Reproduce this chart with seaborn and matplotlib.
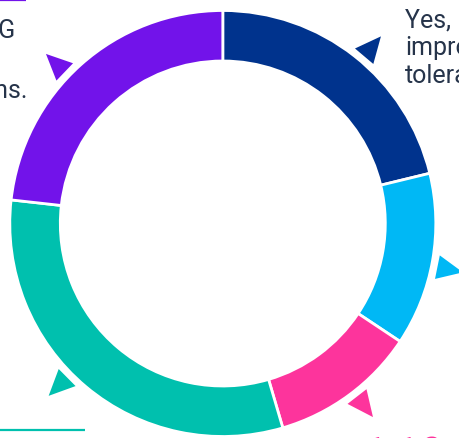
import matplotlib
matplotlib.use("Agg")
import matplotlib.pyplot as plt
import numpy as np
import seaborn as sns

# ---- data ----
categories = ["Yes, improved tolerance", "Category B", "Category C", "Category D", "Category E"]
values = [21, 13, 11, 31, 23]
colors = ["#00338D", "#00B8F5", "#FD349C", "#00C0AE", "#7213EA"]
pointer_angles = [40.2, 101.5, 142.2, 225.3, 313.8]  # degrees clockwise from top
right_lines = ["Yes, it has", "improved", "tolerance"]
left_lines = ["KPMG", "", "actions."]
big_label = "11%"

sns.set_style("white")
palette = sns.color_palette(colors)
plt.rcParams["font.family"] = ["Roboto", "DejaVu Sans"]

W, H = 459, 439
fig = plt.figure(figsize=(W / 100, H / 100), dpi=100)
ax = fig.add_axes([0, 0, 1, 1])

cx, cy = 222.8, H - 224.5
R, ring = 213.0, 50.5

ax.pie(values, colors=palette, startangle=90, counterclock=False,
       center=(cx, cy), radius=R,
       wedgeprops=dict(width=ring, edgecolor="white", linewidth=2.0))

# pointer triangles
r_base, r_apex, hw = 219, 245, 12
for a, col in zip(pointer_angles, palette):
    t = np.deg2rad(a)
    u = np.array([np.sin(t), np.cos(t)])
    tg = np.array([np.cos(t), -np.sin(t)])
    c = np.array([cx, cy])
    bc = c + r_base * u
    apex = c + r_apex * u
    p1 = bc + hw * tg
    p2 = bc - hw * tg
    ax.fill([apex[0], p1[0], p2[0]], [apex[1], p1[1], p2[1]], color=col, lw=0)

txt_col = "#26344A"
for i, s in enumerate(right_lines):
    ax.text(405, H - (27 + 28 * i), s, fontsize=18, color=txt_col,
            ha="left", va="baseline")
left_x = [15, 15, 28]
for i, s in enumerate(left_lines):
    if s:
        ax.text(left_x[i], H - (38 + 30 * i), s, fontsize=18,
                color=txt_col, ha="right", va="baseline")

# decorative rules
ax.plot([0, 26], [H - 0.8, H - 0.8], color=colors[4], lw=1.6, solid_capstyle="butt")
ax.plot([0, 85], [H - 431, H - 431], color=colors[3], lw=1.6, solid_capstyle="butt")

ax.text(352, H - 435.5, big_label, fontsize=42, fontweight="bold", fontstyle="italic",
        color=colors[2], ha="left", va="top")

ax.set_xlim(0, W)
ax.set_ylim(0, H)
ax.set_aspect("equal")
ax.axis("off")
fig.savefig("out.png", dpi=100)
